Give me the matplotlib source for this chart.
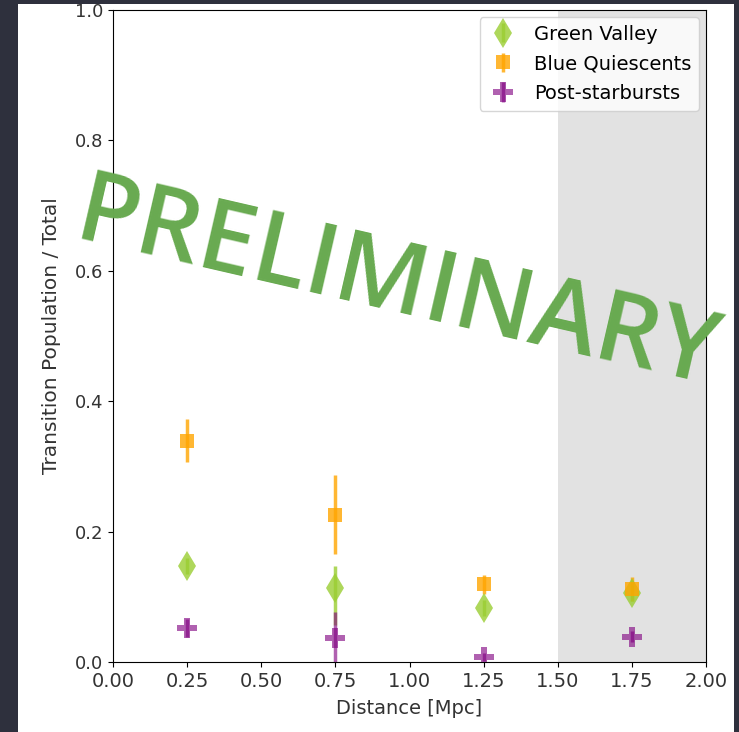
import matplotlib
matplotlib.use("Agg")
from matplotlib import pyplot as plt
from matplotlib.patches import Rectangle

# distance bins [Mpc]
distance = [0.25, 0.75, 1.25, 1.75]

# fraction of each transition population relative to total
green_valley = [0.147, 0.113, 0.083, 0.106]
gv_err_lo = [0.012, 0.056, 0.012, 0.012]
gv_err_hi = [0.012, 0.034, 0.012, 0.012]

blue_quiescent = [0.339, 0.226, 0.119, 0.112]
bq_err = [0.033, 0.061, 0.015, 0.018]

post_starburst = [0.052, 0.037, 0.008, 0.039]
psb_err = [0.014, 0.040, 0.006, 0.008]

W, H = 739, 732
BG = '#2e303d'

fig = plt.figure(figsize=(W / 100, H / 100), dpi=100, facecolor=BG)
# white "slide" panel behind the plot
fig.add_artist(Rectangle((18 / W, 0), (734 - 18) / W, (H - 4) / H, transform=fig.transFigure,
                         facecolor='white', edgecolor='none', zorder=-1))
ax = fig.add_axes([113 / W, 70 / H, 593 / W, 652 / H])

ax.axvspan(1.5, 2.0, facecolor='#e2e2e2', edgecolor='none', zorder=0)

ax.errorbar(distance, green_valley, yerr=[gv_err_lo, gv_err_hi], fmt='d', color='yellowgreen',
            markersize=15, markeredgewidth=0, elinewidth=2.5, alpha=0.8, label='Green Valley')
ax.errorbar(distance, blue_quiescent, yerr=bq_err, fmt='s', color='orange',
            markersize=10, markeredgewidth=0, elinewidth=2.5, alpha=0.8, label='Blue Quiescents')
ax.errorbar(distance, post_starburst, yerr=psb_err, fmt='P', color='purple',
            markersize=14, markeredgewidth=0, elinewidth=2.5, alpha=0.62, label='Post-starbursts')

ax.set_xlim(0, 2.0)
ax.set_ylim(0, 1.0)
ax.set_xticks([0, 0.25, 0.5, 0.75, 1.0, 1.25, 1.5, 1.75, 2.0])
ax.set_xticklabels(['0.00', '0.25', '0.50', '0.75', '1.00', '1.25', '1.50', '1.75', '2.00'])
ax.set_yticks([0, 0.2, 0.4, 0.6, 0.8, 1.0])
ax.tick_params(axis='x', labelsize=14, labelcolor='#333333')
ax.tick_params(axis='y', labelsize=13, labelcolor='#333333')
ax.set_xlabel('Distance [Mpc]', fontsize=14, color='#333333', labelpad=6)
ax.set_ylabel('Transition Population / Total', fontsize=14.5, color='#333333', labelpad=10)
ax.legend(loc='upper right', fontsize=14, labelspacing=0.55, handlelength=1.6, borderaxespad=0.35)

# watermark across the plot
fig.text(397 / W, 1 - 287 / H, 'PRELIMINARY', fontsize=72, family='Open Sans', fontweight='semibold',
         color='#68aa50', rotation=-13, rotation_mode='anchor', ha='center', va='center', zorder=10)

# dark strip at the top that cuts off the 1.0 label
fig.add_artist(Rectangle((0, 1 - 4 / H), 1, 4 / H, transform=fig.transFigure,
                         facecolor=BG, edgecolor='none', zorder=20))

fig.savefig('out.png', dpi=100, facecolor=BG)
